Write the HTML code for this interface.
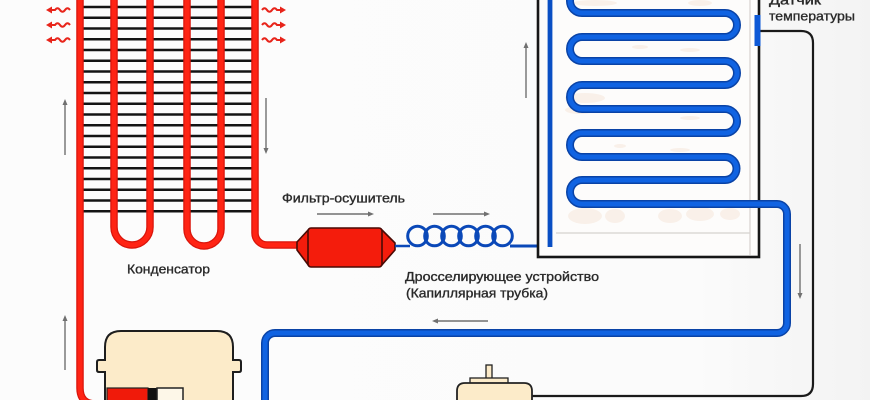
<!DOCTYPE html>
<html>
<head>
<meta charset="utf-8">
<style>
html,body{margin:0;padding:0;background:#fbfbfb;}
svg{display:block;}
text{font-family:"Liberation Sans","Noto Sans CJK SC",sans-serif;fill:#2a2a2a;stroke:#2a2a2a;stroke-width:0.35;}
</style>
</head>
<body>
<svg width="870" height="400" viewBox="0 0 870 400" xmlns="http://www.w3.org/2000/svg">
<defs>
<linearGradient id="bg" x1="0" y1="0" x2="1" y2="0">
<stop offset="0" stop-color="#fcfcfc"/>
<stop offset="0.8" stop-color="#fbfbfb"/>
<stop offset="1" stop-color="#f3f3f3"/>
</linearGradient>
</defs>
<rect x="0" y="0" width="870" height="400" fill="url(#bg)"/>

<!-- ===== Condenser fins ===== -->
<g stroke="#141414" stroke-width="2.5">
<line x1="82" y1="7" x2="252" y2="7"/>
<line x1="82" y1="17.75" x2="252" y2="17.75"/>
<line x1="82" y1="28.5" x2="252" y2="28.5"/>
<line x1="82" y1="39.25" x2="252" y2="39.25"/>
<line x1="82" y1="50" x2="252" y2="50"/>
<line x1="82" y1="60.75" x2="252" y2="60.75"/>
<line x1="82" y1="71.5" x2="252" y2="71.5"/>
<line x1="82" y1="82.25" x2="252" y2="82.25"/>
<line x1="82" y1="93" x2="252" y2="93"/>
<line x1="82" y1="103.75" x2="252" y2="103.75"/>
<line x1="82" y1="114.5" x2="252" y2="114.5"/>
<line x1="82" y1="125.25" x2="252" y2="125.25"/>
<line x1="82" y1="136" x2="252" y2="136"/>
<line x1="82" y1="146.75" x2="252" y2="146.75"/>
<line x1="82" y1="157.5" x2="252" y2="157.5"/>
<line x1="82" y1="168.25" x2="252" y2="168.25"/>
<line x1="82" y1="179" x2="252" y2="179"/>
<line x1="82" y1="189.75" x2="252" y2="189.75"/>
<line x1="82" y1="200.5" x2="252" y2="200.5"/>
<line x1="82" y1="211.25" x2="252" y2="211.25"/>
</g>

<!-- ===== Red tubes ===== -->
<g fill="none" stroke-linecap="butt">
<g stroke="#d9150b" stroke-width="7.5">
<path d="M80,-2 L80,388 Q80,404 96,404"/>
<path d="M114,-2 L114,227 A18,18 0 0 0 150,227 L150,-2"/>
<path d="M187,-2 L187,229 A17,17 0 0 0 221,229 L221,-2"/>
<path d="M255,-2 L255,233 A12,12 0 0 0 267,245 L300,245"/>
</g>
<g stroke="#ff2414" stroke-width="5">
<path d="M80,-2 L80,388 Q80,404 96,404"/>
<path d="M114,-2 L114,227 A18,18 0 0 0 150,227 L150,-2"/>
<path d="M187,-2 L187,229 A17,17 0 0 0 221,229 L221,-2"/>
<path d="M255,-2 L255,233 A12,12 0 0 0 267,245 L300,245"/>
</g>
</g>

<!-- heat arrows -->
<g fill="none" stroke="#e8241a" stroke-width="2">
<path d="M70,10 Q67.5,6.5 65,10 T60,10 T55,10 L50,10"/>
<path d="M70,25 Q67.5,21.5 65,25 T60,25 T55,25 L50,25"/>
<path d="M70,40 Q67.5,36.5 65,40 T60,40 T55,40 L50,40"/>
<path d="M262,10 Q264.5,6.5 267,10 T272,10 T277,10 L281,10"/>
<path d="M262,25 Q264.5,21.5 267,25 T272,25 T277,25 L281,25"/>
<path d="M262,40 Q264.5,36.5 267,40 T272,40 T277,40 L281,40"/>
</g>
<g fill="#e8241a">
<polygon points="46,10 52,6.5 52,13.5"/>
<polygon points="46,25 52,21.5 52,28.5"/>
<polygon points="46,40 52,36.5 52,43.5"/>
<polygon points="286,10 280,6.5 280,13.5"/>
<polygon points="286,25 280,21.5 280,28.5"/>
<polygon points="286,40 280,36.5 280,43.5"/>
</g>

<!-- gray flow arrows -->
<g stroke="#707070" stroke-width="1.4" fill="none">
<line x1="65" y1="155" x2="65" y2="103"/>
<line x1="266" y1="98" x2="266" y2="150"/>
<line x1="317" y1="214" x2="370" y2="214"/>
<line x1="433" y1="214" x2="486" y2="214"/>
<line x1="488" y1="321" x2="436" y2="321"/>
<line x1="65" y1="370" x2="65" y2="319"/>
<line x1="526" y1="98" x2="526" y2="46"/>
<line x1="800" y1="244" x2="800" y2="295"/>
</g>
<g fill="#707070">
<polygon points="65,99 62.5,105 67.5,105"/>
<polygon points="266,154 263.5,148 268.5,148"/>
<polygon points="374,214 368,211.5 368,216.5"/>
<polygon points="490,214 484,211.5 484,216.5"/>
<polygon points="432,321 438,318.5 438,323.5"/>
<polygon points="65,315 62.5,321 67.5,321"/>
<polygon points="526,42 523.5,48 528.5,48"/>
<polygon points="800,299 797.5,293 802.5,293"/>
</g>

<!-- ===== Filter-drier ===== -->
<g stroke="#4a0a05" stroke-width="1.6" fill="#f41c0c" stroke-linejoin="round">
<polygon points="297,242 309,229 309,266 297,250"/>
<polygon points="395,243 381,229 381,266 395,250"/>
<rect x="308" y="228" width="74" height="39" rx="3"/>
</g>

<!-- ===== Capillary ===== -->
<g fill="none" stroke="#0a48b8">
<path d="M395,246 L410,246" stroke-width="2.5"/>
<path d="M510,246 L551,246" stroke-width="3"/>
<circle cx="417.5" cy="236" r="9.8" stroke-width="3"/>
<circle cx="434.5" cy="236" r="9.8" stroke-width="3"/>
<circle cx="451.5" cy="236" r="9.8" stroke-width="3"/>
<circle cx="468.5" cy="236" r="9.8" stroke-width="3"/>
<circle cx="485.5" cy="236" r="9.8" stroke-width="3"/>
<circle cx="502.5" cy="236" r="9.8" stroke-width="3"/>
</g>

<!-- ===== Fridge ===== -->
<rect x="538" y="-5" width="221" height="262" fill="#fdfcfb" stroke="#161616" stroke-width="2.6"/>
<g stroke="#d6d2ce" stroke-width="1.2">
<line x1="750" y1="0" x2="750" y2="255"/>
<line x1="556" y1="233" x2="750" y2="233"/>
</g>
<!-- faint food -->
<g fill="#f0d6c0" opacity="0.3">
<ellipse cx="595" cy="3" rx="22" ry="3"/>
<ellipse cx="700" cy="3" rx="12" ry="3"/>
<ellipse cx="640" cy="47" rx="8" ry="2"/>
<ellipse cx="690" cy="50" rx="10" ry="2"/>
<ellipse cx="585" cy="98" rx="20" ry="5"/>
<ellipse cx="580" cy="110" rx="15" ry="4"/>
<ellipse cx="690" cy="118" rx="10" ry="2"/>
<ellipse cx="620" cy="146" rx="6" ry="2"/>
<ellipse cx="680" cy="150" rx="10" ry="2"/>
<ellipse cx="585" cy="216" rx="17" ry="8"/>
<ellipse cx="615" cy="216" rx="10" ry="7"/>
<ellipse cx="670" cy="216" rx="12" ry="7"/>
<ellipse cx="700" cy="214" rx="14" ry="7"/>
<ellipse cx="730" cy="214" rx="10" ry="6"/>
</g>

<!-- capillary vertical inside fridge -->
<path d="M550,-2 L550,247" fill="none" stroke="#0a4fc4" stroke-width="4.8"/>

<!-- evaporator + suction line -->
<g fill="none" stroke-linejoin="round">
<path d="M725,-11 L582,-11 A12,12 0 0 0 582,13 L725,13 A12,12 0 0 1 725,37 L582,37 A12,12 0 0 0 582,61 L725,61 A12,12 0 0 1 725,85 L582,85 A12,12 0 0 0 582,109 L725,109 A12,12 0 0 1 725,133 L582,133 A12,12 0 0 0 582,157 L725,157 A11.5,11.5 0 0 1 725,180 L582,180 A12,12 0 0 0 582,204 L777,204 A10,10 0 0 1 787,214 L787,323 A10,10 0 0 1 777,333 L275,333 A10,10 0 0 0 265,343 L265,404" stroke="#0a43a6" stroke-width="8"/>
<path d="M725,-11 L582,-11 A12,12 0 0 0 582,13 L725,13 A12,12 0 0 1 725,37 L582,37 A12,12 0 0 0 582,61 L725,61 A12,12 0 0 1 725,85 L582,85 A12,12 0 0 0 582,109 L725,109 A12,12 0 0 1 725,133 L582,133 A12,12 0 0 0 582,157 L725,157 A11.5,11.5 0 0 1 725,180 L582,180 A12,12 0 0 0 582,204 L777,204 A10,10 0 0 1 787,214 L787,323 A10,10 0 0 1 777,333 L275,333 A10,10 0 0 0 265,343 L265,404" stroke="#1063e2" stroke-width="5"/>
</g>

<!-- sensor + wire -->
<path d="M760,31 L801,31 Q813,31 813,43 L813,384 Q813,396 801,396 L532,396" fill="none" stroke="#1a1a1a" stroke-width="2.2"/>
<rect x="754.5" y="15" width="6" height="31" fill="#0d58d6"/>

<!-- ===== Compressor ===== -->
<path d="M105,404 L105,372 L99,372 Q97,372 97,370 L97,362 Q97,360 99,360 L105,360 L105,347 Q105,331 121,331 L217,331 Q233,331 233,347 L233,360 L239,360 Q241,360 241,362 L241,370 Q241,372 239,372 L233,372 L233,404 Z" fill="#fcebc9" stroke="#1e1e1e" stroke-width="2"/>
<rect x="107" y="388" width="41" height="14" fill="#f01a0a" stroke="#222" stroke-width="1.2"/>
<rect x="148" y="388" width="9" height="14" fill="#111"/>
<rect x="157" y="388" width="26" height="14" fill="#fdf7e8" stroke="#222" stroke-width="1.5"/>

<!-- ===== Thermostat/relay ===== -->
<rect x="486" y="365" width="6" height="14" fill="#fcebc9" stroke="#222" stroke-width="1.3"/>
<rect x="470" y="378" width="38" height="6" fill="#fcebc9" stroke="#222" stroke-width="1.3"/>
<path d="M457,404 L457,391 Q457,383 465,383 L524,383 Q532,383 532,391 L532,404 Z" fill="#fcebc9" stroke="#222" stroke-width="1.8"/>

<!-- ===== Labels ===== -->
<text x="127" y="273.5" font-size="13" textLength="83" lengthAdjust="spacingAndGlyphs">Конденсатор</text>
<text x="282" y="202.5" font-size="13" textLength="123" lengthAdjust="spacingAndGlyphs">Фильтр-осушитель</text>
<text x="405" y="281" font-size="13" textLength="194" lengthAdjust="spacingAndGlyphs">Дросселирующее устройство</text>
<text x="406" y="297.5" font-size="13" textLength="142" lengthAdjust="spacingAndGlyphs">(Капиллярная трубка)</text>
<text x="769" y="4.5" font-size="13" textLength="52" lengthAdjust="spacingAndGlyphs">Датчик</text>
<text x="769" y="20.5" font-size="13" textLength="86" lengthAdjust="spacingAndGlyphs">температуры</text>
</svg>
</body>
</html>
